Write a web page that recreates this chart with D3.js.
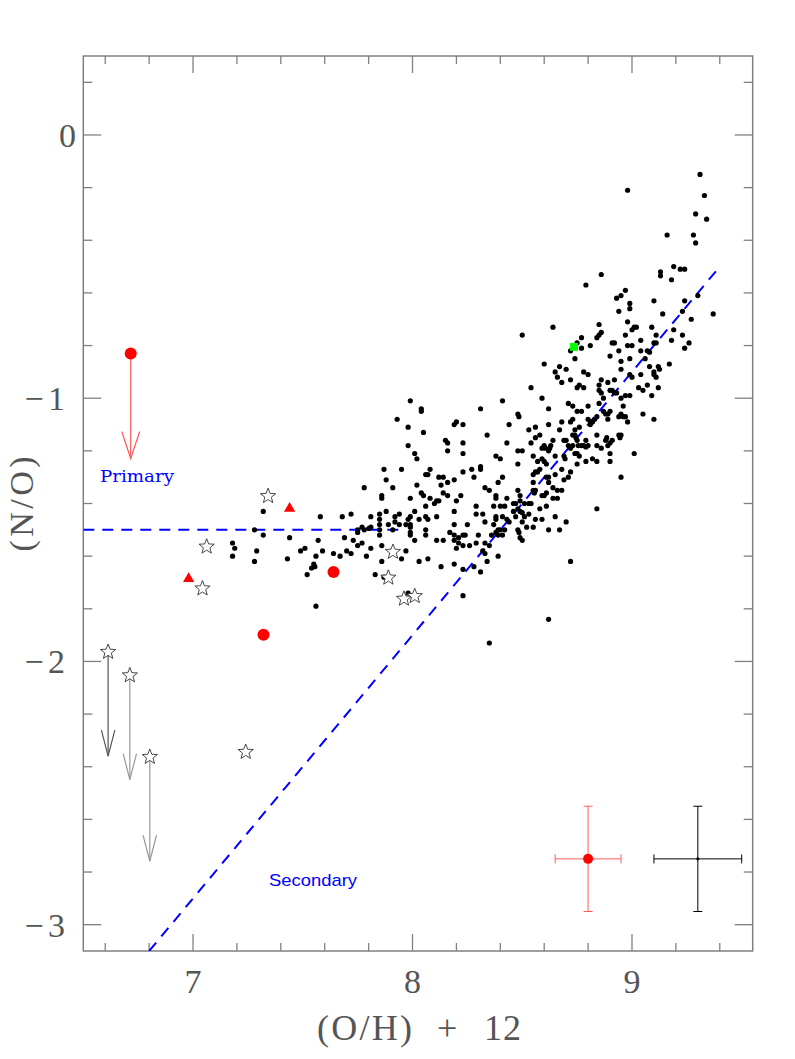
<!DOCTYPE html>
<html><head><meta charset="utf-8">
<script src="https://cdn.jsdelivr.net/npm/d3@7"></script>
<style>body{margin:0;background:#fff}svg{display:block}</style>
</head><body><svg id="chart" width="795" height="1059"></svg>
<script>
// ---- data: [12+log(O/H), log(N/O)] ----
const sampleGalaxies = [
[7.99,-1.01],[8.04,-1.04],[8.04,-1.05],[8.31,-1.04],[8.41,-1.01],[7.93,-1.08],[7.98,-1.11],[8.05,-1.13],[8.20,-1.09],[8.23,-1.10],[8.19,-1.10],[8.34,-1.14],[8.15,-1.16],[8.16,-1.17],[8.23,-1.17],[8.43,-1.17],[7.98,-1.18],[8.16,-1.20],[8.23,-1.21],[8.01,-1.21],[8.02,-1.23],[8.38,-1.22],[8.40,-1.23],[7.87,-1.27],[7.95,-1.27],[8.08,-1.27],[8.07,-1.29],[8.06,-1.29],[8.27,-1.27],[8.31,-1.26],[8.31,-1.27],[8.23,-1.28],[7.88,-1.31],[8.12,-1.30],[8.14,-1.30],[8.19,-1.31],[8.28,-1.30],[8.41,-1.30],[8.39,-1.32],[7.91,-1.34],[7.78,-1.34],[8.02,-1.33],[8.16,-1.32],[8.13,-1.33],[8.33,-1.34],[8.35,-1.35],[7.86,-1.37],[7.86,-1.38],[8.04,-1.36],[8.05,-1.37],[8.14,-1.36],[8.22,-1.37],[8.38,-1.37],[8.38,-1.38],[8.43,-1.38],[7.99,-1.38],[8.16,-1.37],[8.08,-1.38],[8.10,-1.40],[8.11,-1.39],[8.12,-1.39],[8.06,-1.41],[8.20,-1.39],[8.29,-1.41],[8.37,-1.41],[8.40,-1.41],[8.42,-1.41],[7.88,-1.43],[7.85,-1.44],[8.01,-1.43],[8.19,-1.43],[7.94,-1.44],[7.92,-1.45],[7.85,-1.46],[7.81,-1.45],[7.68,-1.45],[7.72,-1.44],[7.58,-1.45],[7.99,-1.45],[7.98,-1.46],[8.06,-1.45],[8.11,-1.45],[8.03,-1.46],[8.07,-1.46],[8.29,-1.44],[8.32,-1.44],[8.38,-1.45],[8.38,-1.46],[8.41,-1.45],[8.43,-1.46],[8.44,-1.47],[7.81,-1.49],[7.80,-1.495],
[7.85,-1.48],[7.89,-1.48],[7.92,-1.47],[7.94,-1.48],[7.97,-1.48],[7.99,-1.48],[7.99,-1.49],[7.77,-1.49],[7.78,-1.50],[7.75,-1.50],[7.75,-1.51],[7.85,-1.50],[7.91,-1.50],[8.19,-1.48],[8.25,-1.48],[8.33,-1.47],[8.37,-1.48],[8.39,-1.50],[8.40,-1.50],[8.42,-1.50],[7.99,-1.51],[7.99,-1.52],[8.06,-1.50],[8.06,-1.52],[8.11,-1.54],[8.14,-1.54],[8.17,-1.51],[8.19,-1.52],[8.23,-1.52],[8.24,-1.52],[8.21,-1.53],[8.30,-1.52],[8.36,-1.52],[8.38,-1.51],[8.39,-1.52],[8.41,-1.52],[7.69,-1.53],[7.73,-1.54],[7.77,-1.55],[7.75,-1.56],[7.85,-1.52],[7.86,-1.56],[8.01,-1.54],[8.19,-1.54],[8.20,-1.57],[8.21,-1.55],[8.23,-1.56],[8.26,-1.56],[8.29,-1.55],[8.33,-1.55],[8.35,-1.56],[8.32,-1.58],[8.33,-1.59],[7.51,-1.57],[7.49,-1.58],[7.57,-1.54],[7.59,-1.58],[7.56,-1.60],[7.64,-1.59],[7.67,-1.60],[7.70,-1.58],[7.72,-1.59],[7.79,-1.60],[7.81,-1.57],[7.95,-1.61],[7.97,-1.58],[7.86,-1.62],[8.03,-1.62],[8.07,-1.61],[8.13,-1.64],[8.19,-1.63],[8.23,-1.65],[8.28,-1.64],[8.31,-1.66],[8.34,-1.62],[8.39,-1.60],[7.55,-1.63],[7.555,-1.64],[7.54,-1.645],[7.52,-1.67],[7.83,-1.67],[7.87,-1.68],[7.98,-1.74],[8.23,-1.75],[7.56,-1.79],[8.35,-1.93],
[7.32,-1.43],[7.28,-1.50],[7.32,-1.52],[7.18,-1.55],[7.19,-1.57],[7.18,-1.60],[7.29,-1.58],[7.28,-1.62],[7.44,-1.53],[7.43,-1.61],
[8.62,-1.04],[8.71,-1.02],[8.73,-1.03],[8.80,-1.03],[8.48,-1.06],[8.485,-1.07],[8.44,-1.10],[8.53,-1.12],[8.56,-1.11],[8.62,-1.10],[8.68,-1.09],[8.67,-1.12],[8.72,-1.09],[8.73,-1.08],[8.75,-1.05],[8.77,-1.05],[8.80,-1.08],[8.81,-1.09],[8.82,-1.09],[8.83,-1.08],[8.84,-1.07],[8.81,-1.10],[8.85,-1.02],[8.87,-1.05],[8.88,-1.06],[8.89,-1.06],[8.90,-1.05],[8.89,-1.08],[8.94,-1.07],[8.95,-1.06],[8.96,-1.07],[8.97,-1.07],[8.98,-1.09],[8.96,-1.03],[9.05,-1.06],[9.10,-1.08],[8.48,-1.20],[8.50,-1.20],[8.48,-1.25],[8.54,-1.17],[8.56,-1.15],[8.58,-1.14],[8.55,-1.22],[8.57,-1.24],[8.59,-1.19],[8.60,-1.18],[8.605,-1.19],[8.62,-1.20],[8.625,-1.19],[8.63,-1.18],[8.64,-1.16],[8.59,-1.23],[8.60,-1.24],[8.61,-1.25],[8.65,-1.22],[8.69,-1.16],[8.70,-1.16],[8.71,-1.18],[8.72,-1.19],[8.69,-1.22],[8.695,-1.23],[8.73,-1.14],[8.74,-1.14],[8.745,-1.15],[8.75,-1.16],[8.755,-1.18],[8.73,-1.18],[8.74,-1.12],[8.76,-1.11],[8.74,-1.21],[8.75,-1.21],[8.76,-1.22],[8.75,-1.25],[8.77,-1.18],[8.78,-1.18],[8.79,-1.185],[8.80,-1.18],[8.79,-1.16],[8.79,-1.24],[8.82,-1.23],[8.84,-1.24],[8.84,-1.18],[8.86,-1.19],[8.84,-1.14],[8.88,-1.16],[8.885,-1.15],[8.90,-1.17],[8.89,-1.18],[8.91,-1.16],[8.90,-1.21],[8.90,-1.24],[8.94,-1.14],[8.95,-1.14],[8.945,-1.15],[9.01,-1.21],[8.95,-1.30],[8.84,-1.42],[8.72,-1.62],[8.62,-1.84],
[8.48,-1.35],[8.49,-1.37],[8.46,-1.40],[8.47,-1.40],[8.48,-1.42],[8.49,-1.43],[8.50,-1.435],[8.51,-1.40],[8.53,-1.40],[8.54,-1.40],[8.53,-1.44],[8.51,-1.45],[8.50,-1.47],[8.47,-1.45],[8.46,-1.43],[8.48,-1.50],[8.485,-1.51],[8.49,-1.53],[8.50,-1.54],[8.52,-1.49],[8.56,-1.46],[8.55,-1.49],[8.59,-1.46],[8.58,-1.42],[8.61,-1.41],[8.55,-1.35],[8.56,-1.35],[8.555,-1.36],[8.59,-1.37],[8.60,-1.37],[8.61,-1.36],[8.55,-1.32],[8.55,-1.29],[8.56,-1.28],[8.57,-1.28],[8.58,-1.27],[8.61,-1.30],[8.62,-1.30],[8.62,-1.32],[8.65,-1.29],[8.64,-1.34],[8.66,-1.35],[8.64,-1.38],[8.66,-1.38],[8.69,-1.31],[8.71,-1.30],[8.72,-1.28],[8.68,-1.27],[8.68,-1.35],[8.65,-1.45],[8.62,-1.50],[8.67,-1.50],[8.70,-1.47],[8.49,-1.39],
[9.31,-0.15],[8.98,-0.21],[9.33,-0.23],[9.29,-0.30],[9.34,-0.32],[9.16,-0.38],[9.28,-0.38],[9.29,-0.41],[9.13,-0.52],[9.13,-0.535],[9.19,-0.50],[9.22,-0.51],[9.24,-0.51],[9.18,-0.55],[8.86,-0.53],[8.79,-0.57],[8.97,-0.59],[8.95,-0.61],[8.93,-0.62],[8.99,-0.64],[8.99,-0.66],[8.94,-0.67],[9.10,-0.63],[9.14,-0.68],[9.24,-0.63],[9.30,-0.61],[9.23,-0.67],[9.27,-0.70],[9.37,-0.68],[8.64,-0.73],[8.85,-0.72],[8.86,-0.75],[8.85,-0.76],[8.84,-0.77],[8.98,-0.71],[9.00,-0.74],[9.01,-0.73],[9.02,-0.73],[8.97,-0.76],[9.09,-0.73],[9.11,-0.76],[9.19,-0.74],[9.23,-0.76],[9.18,-0.78],[9.26,-0.79],[9.24,-0.81],[8.77,-0.77],[8.75,-0.79],[8.77,-0.81],[8.72,-0.82],[8.81,-0.80],[8.74,-0.85],[8.91,-0.79],[8.92,-0.79],[8.94,-0.82],[8.90,-0.84],[8.98,-0.80],[9.00,-0.80],[9.04,-0.78],[9.04,-0.82],[9.07,-0.82],[9.08,-0.825],[9.10,-0.79],[9.11,-0.79],
[8.95,-0.86],[8.95,-0.89],[8.99,-0.85],[9.06,-0.85],[9.08,-0.88],[9.10,-0.90],[9.12,-0.88],[9.125,-0.89],[9.10,-0.91],[9.11,-0.92],[9.17,-0.87],[8.60,-0.87],[8.67,-0.88],[8.65,-0.90],[8.70,-0.89],[8.78,-0.90],[8.80,-0.91],[8.66,-0.92],[8.68,-0.94],[8.72,-0.93],[8.86,-0.93],[8.85,-0.95],[8.89,-0.94],[8.92,-0.93],[8.99,-0.91],[9.00,-0.92],[9.04,-0.91],[9.07,-0.95],[9.03,-0.96],[9.05,-0.97],[9.12,-0.96],[9.09,-0.99],[8.75,-0.96],[8.76,-0.95],[8.78,-0.96],[8.85,-0.97],[8.86,-0.98],[8.90,-0.97],[8.91,-0.97],[8.92,-0.98],[8.93,-0.98],[8.95,-1.00],[8.97,-0.99],[8.99,-0.99],[8.54,-0.96],[8.59,-1.00],[8.87,-1.00],
[8.50,-0.76]
];
const openStars = [[7.342,-1.369],[7.062,-1.561],[7.043,-1.720],[7.240,-2.341],[7.911,-1.581],[7.890,-1.679],[7.961,-1.759],[8.010,-1.749]];
const starUpperLimits = [[6.613,-1.961,-2.360],[6.712,-2.050,-2.449],[6.803,-2.360,-2.759]]; // x, y, arrow end
const redCircles = [[7.640,-1.660],[7.321,-1.899]];
const redUpperLimits = [[6.716,-0.830,-1.229]];
const redTriangles = [[7.440,-1.419],[6.980,-1.686]];
const greenSquares = [[8.736,-0.805]];
const redErrorBar = [8.80,-2.75,0.15,0.20];   // x, y, ±x, ±y
const blackErrorBar = [9.30,-2.75,0.20,0.20];
const primaryLine = [[6.5,-1.5],[7.95,-1.5]];
const secondaryLine = [[6.8,-3.1],[9.4,-0.5]];
const xMajorTicks = [7,8,9];
const xTickLabels = ["7","8","9"];
const yMajorTicks = [0,-1,-2,-3];
const yTickLabels = ["0","\u22121","\u22122","\u22123"];
const xDomain = [6.5,9.55], yDomain = [0.3,-3.1];

// ---- drawing ----
const svg = d3.select("#chart");
const L=83.3, R=752.7, T=56, B=951;
const x = d3.scaleLinear().domain(xDomain).range([L,R]);
const y = d3.scaleLinear().domain(yDomain).range([T,B]);
const serif = "'Liberation Serif','Times New Roman',serif";
const axisCol = "#808080";
const textCol = "#555";

svg.append("defs").append("clipPath").attr("id","clip")
  .append("rect").attr("x",L).attr("y",T).attr("width",R-L).attr("height",B-T);

// frame
svg.append("rect").attr("x",L).attr("y",T).attr("width",R-L).attr("height",B-T)
  .attr("fill","none").attr("stroke",axisCol).attr("stroke-width",1.5);

// ticks
const xMinor = d3.range(66,96,2).map(v=>v/10).filter(v=>Math.abs(v-Math.round(v))>1e-6 && v<=xDomain[1]);
const yMinor = d3.range(-30,3,2).map(v=>v/10).filter(v=>Math.abs(v-Math.round(v))>1e-6);
const tg = svg.append("g").attr("stroke",axisCol).attr("stroke-width",1.3);
function vt(vals,len){vals.forEach(v=>{tg.append("line").attr("x1",x(v)).attr("x2",x(v)).attr("y1",B).attr("y2",B-len);
  tg.append("line").attr("x1",x(v)).attr("x2",x(v)).attr("y1",T).attr("y2",T+len);});}
function ht(vals,len){vals.forEach(v=>{tg.append("line").attr("y1",y(v)).attr("y2",y(v)).attr("x1",L).attr("x2",L+len);
  tg.append("line").attr("y1",y(v)).attr("y2",y(v)).attr("x1",R).attr("x2",R-len);});}
vt(xMajorTicks,17); vt(xMinor,8); ht(yMajorTicks,18); ht(yMinor,9);

// tick labels
svg.append("g").selectAll("text").data(xMajorTicks).join("text")
  .attr("x",d=>x(d)).attr("y",993).attr("text-anchor","middle")
  .attr("font-family",serif).attr("font-size",34).attr("fill",textCol)
  .text((d,i)=>xTickLabels[i]);
const yl = svg.append("g").attr("font-family",serif).attr("font-size",34).attr("fill",textCol);
yMajorTicks.forEach((d,i)=>{
  const lab = yTickLabels[i];
  if(lab.length>1){
    yl.append("text").attr("x",34).attr("y",y(d)+12).attr("text-anchor","middle").text(lab[0]);
    yl.append("text").attr("x",65).attr("y",y(d)+12).attr("text-anchor","end").text(lab.slice(1));
  } else {
    yl.append("text").attr("x",76).attr("y",y(d)+12).attr("text-anchor","end").text(lab);
  }
});

// axis titles
const xt = svg.append("text").attr("y",1040).attr("font-family",serif).attr("font-size",36).attr("fill",textCol);
xt.append("tspan").attr("x",317).attr("textLength",95).attr("lengthAdjust","spacing").text("(O/H)");
xt.append("tspan").attr("x",437).text("+");
xt.append("tspan").attr("x",484).attr("textLength",37).attr("lengthAdjust","spacing").text("12");
svg.append("text").attr("transform","translate(33,504) rotate(-90)").attr("text-anchor","middle")
  .attr("font-family",serif).attr("font-size",34).attr("fill",textCol)
  .attr("textLength",95).attr("lengthAdjust","spacing").text("(N/O)");

const plot = svg.append("g").attr("clip-path","url(#clip)");
const line = d3.line().x(d=>x(d[0])).y(d=>y(d[1]));

// model lines
[primaryLine, secondaryLine].forEach(p=>plot.append("path").attr("d",line(p))
  .attr("fill","none").attr("stroke","#0000ff").attr("stroke-width",2).attr("stroke-dasharray","11,8"));

// annotations
svg.append("text").attr("x",x(6.576)).attr("y",y(-1.318)).attr("font-family","'DejaVu Serif',serif")
  .attr("font-size",17).attr("fill","#0000ff").attr("textLength",74).attr("lengthAdjust","spacingAndGlyphs").text("Primary");
svg.append("text").attr("x",x(7.346)).attr("y",y(-2.853)).attr("font-family","'Liberation Sans',Arial,sans-serif")
  .attr("font-size",17).attr("fill","#0000ff").attr("textLength",88).attr("lengthAdjust","spacingAndGlyphs").text("Secondary");

// arrows helper
function arrow(g,x0,y0,y1,col,hw,hl,w){
  g.append("line").attr("x1",x(x0)).attr("x2",x(x0)).attr("y1",y(y0)).attr("y2",y(y1)).attr("stroke",col).attr("stroke-width",w);
  const tx=x(x0), ty=y(y1);
  g.append("path").attr("d",`M${tx-hw},${ty-hl}L${tx},${ty}L${tx+hw},${ty-hl}`).attr("fill","none").attr("stroke",col).attr("stroke-width",w);
}
starUpperLimits.forEach((d,i)=>arrow(plot,d[0],d[1],d[2], i===0?"#555":"#999",6.7,26,1.2));
redUpperLimits.forEach(d=>arrow(plot,d[0],d[1],d[2],"#ff5a5a",9,27,1.2));

// sample galaxies
plot.append("g").selectAll("circle").data(sampleGalaxies).join("circle")
  .attr("cx",d=>x(d[0])).attr("cy",d=>y(d[1])).attr("r",2.6).attr("fill","#000");

// stars
const starPath = (()=>{const pts=[];for(let k=0;k<10;k++){const a=-Math.PI/2+k*Math.PI/5;const r=k%2?3.4:8;pts.push([r*Math.cos(a),r*Math.sin(a)]);}
  return d3.line()(pts)+"Z";})();
plot.append("g").selectAll("path").data(openStars.concat(starUpperLimits.map(d=>[d[0],d[1]]))).join("path")
  .attr("d",starPath).attr("transform",d=>`translate(${x(d[0])},${y(d[1])+0.8})`)
  .attr("fill","#fff").attr("stroke","#333").attr("stroke-width",0.9);

// red circles
plot.append("g").selectAll("circle").data(redCircles.concat(redUpperLimits.map(d=>[d[0],d[1]]))).join("circle")
  .attr("cx",d=>x(d[0])).attr("cy",d=>y(d[1])).attr("r",6).attr("fill","#ff0000");
// red triangles
plot.append("g").selectAll("path").data(redTriangles).join("path")
  .attr("d",d3.symbol(d3.symbolTriangle,55)).attr("transform",d=>`translate(${x(d[0])},${y(d[1])})`).attr("fill","#ff0000");
// green square
plot.append("g").selectAll("rect").data(greenSquares).join("rect")
  .attr("x",d=>x(d[0])-4).attr("y",d=>y(d[1])-4).attr("width",8).attr("height",8).attr("fill","#00ff00");

// error bars
function errbar(e,col){
  const g=plot.append("g").attr("stroke",col).attr("stroke-width",1);
  const cx=x(e[0]), cy=y(e[1]), x0=x(e[0]-e[2]), x1=x(e[0]+e[2]), y0=y(e[1]+e[3]), y1=y(e[1]-e[3]);
  g.append("line").attr("x1",x0).attr("x2",x1).attr("y1",cy).attr("y2",cy);
  g.append("line").attr("x1",cx).attr("x2",cx).attr("y1",y0).attr("y2",y1);
  [x0,x1].forEach(v=>g.append("line").attr("x1",v).attr("x2",v).attr("y1",cy-4.5).attr("y2",cy+4.5));
  [y0,y1].forEach(v=>g.append("line").attr("y1",v).attr("y2",v).attr("x1",cx-4.5).attr("x2",cx+4.5));
}
errbar(redErrorBar,"#ff5a5a");
errbar(blackErrorBar,"#000");
plot.append("circle").attr("cx",x(redErrorBar[0])).attr("cy",y(redErrorBar[1])).attr("r",5).attr("fill","#ff0000");
plot.append("circle").attr("cx",x(blackErrorBar[0])).attr("cy",y(blackErrorBar[1])).attr("r",1.6).attr("fill","#000");
</script></body></html>
